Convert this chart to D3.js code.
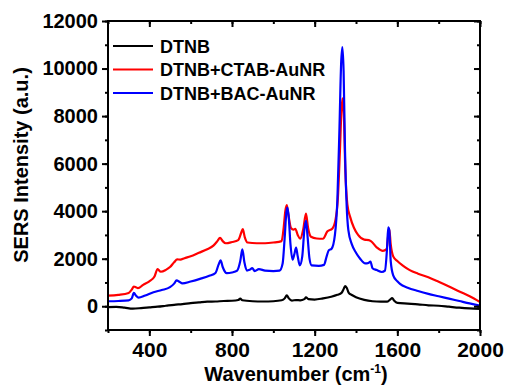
<!DOCTYPE html>
<html>
<head>
<meta charset="utf-8">
<script src="https://cdn.jsdelivr.net/npm/d3@7"></script>
<style>
  body { margin: 0; background: #fff; }
  svg { font-family: "Liberation Sans", Arial, sans-serif; font-weight: bold; }
</style>
</head>
<body>
<svg width="507" height="387"></svg>
<script>
// spectra: [wavenumber, intensity]
const dtnb = [
  [200,-40],[240,-30],[280,-60],[320,-100],[360,-80],[400,-50],[440,-20],[480,20],[520,60],
  [560,90],[600,130],[640,160],[680,190],[720,200],[760,220],[800,230],[830,260],[840,320],
  [850,250],[900,210],[950,200],[1000,210],[1040,250],[1055,330],[1065,460],[1075,330],
  [1090,240],[1110,260],[1130,250],[1150,300],[1158,370],[1170,300],[1200,280],[1240,330],
  [1280,400],[1310,480],[1330,560],[1340,720],[1347,850],[1355,780],[1365,560],[1380,470],
  [1400,380],[1440,270],[1480,210],[1520,190],[1550,190],[1565,280],[1575,340],[1585,230],
  [1600,140],[1650,110],[1700,80],[1750,40],[1800,20],[1850,-20],[1900,-60],[1950,-90],[2000,-110]
];

const dtnbCtab = [
  [200,450],[250,480],[300,560],[315,700],[325,830],[335,800],[345,760],[370,900],[400,1050],
  [425,1250],[440,1560],[455,1450],[480,1530],[500,1650],[520,1850],[535,1970],[550,1960],
  [570,2020],[600,2100],[640,2250],[680,2400],[710,2550],[730,2750],[742,2880],[755,2740],
  [770,2650],[800,2700],[830,2780],[845,3100],[852,3240],[862,2900],[875,2680],[920,2650],
  [960,2650],[1000,2680],[1040,2740],[1050,3300],[1058,4000],[1065,4250],[1072,3900],
  [1085,3300],[1098,3220],[1106,3260],[1118,3000],[1130,2840],[1145,3250],[1158,3900],
  [1168,3300],[1182,2920],[1210,2850],[1240,2840],[1262,3150],[1285,3260],[1300,3600],
  [1312,4500],[1322,6500],[1330,8300],[1335,8750],[1341,8100],[1348,5800],[1358,4300],
  [1372,3750],[1390,3300],[1410,3000],[1440,2800],[1462,2780],[1472,2740],[1500,2480],
  [1530,2330],[1548,2400],[1556,3000],[1561,3250],[1568,2600],[1580,2100],[1600,1900],
  [1625,1720],[1660,1520],[1700,1370],[1750,1220],[1800,1030],[1850,830],[1900,620],
  [1950,420],[2000,180]
];

const dtnbBac = [
  [200,210],[250,220],[300,250],[315,330],[325,560],[335,450],[348,360],[380,450],[420,590],
  [460,680],[500,800],[520,950],[532,1090],[545,1030],[560,960],[600,1040],[645,1150],
  [690,1280],[720,1400],[735,1750],[745,1930],[755,1650],[775,1390],[800,1420],[825,1500],
  [840,1900],[850,2390],[860,1850],[872,1500],[885,1530],[898,1600],[910,1480],[930,1560],
  [960,1500],[1000,1480],[1030,1500],[1045,1800],[1055,2900],[1063,3950],[1068,4150],
  [1074,3800],[1083,2600],[1093,1960],[1102,2200],[1110,2470],[1118,2100],[1128,1720],
  [1140,2100],[1150,3200],[1158,3600],[1165,3000],[1175,2000],[1185,1720],[1220,1700],
  [1245,1740],[1258,2100],[1268,2350],[1282,2420],[1298,3000],[1310,4500],[1320,7500],
  [1328,10200],[1334,10900],[1340,9900],[1347,6500],[1355,4200],[1363,3200],[1380,2600],
  [1400,2250],[1420,2000],[1445,1800],[1460,1820],[1470,1880],[1480,1600],[1500,1520],
  [1525,1440],[1540,1500],[1550,2400],[1556,3320],[1561,3200],[1568,1900],[1580,1300],
  [1600,1050],[1613,940],[1650,780],[1700,640],[1750,520],[1800,420],[1850,320],
  [1900,220],[1950,120],[2000,30]
];

const seriesNames = ['DTNB', 'DTNB+CTAB-AuNR', 'DTNB+BAC-AuNR'];
const seriesColors = ['#000000', '#ff0000', '#0000ff'];
const xTicks = [400, 800, 1200, 1600, 2000];
const yTicks = [0, 2000, 4000, 6000, 8000, 10000, 12000];

const svg = d3.select('svg');
const m = {left: 108, right: 480, top: 21, bottom: 330};

const x = d3.scaleLinear().domain([200, 2000]).range([m.left, m.right]);
const y = d3.scaleLinear().domain([-1000, 12000]).range([m.bottom, m.top]);

const line = d3.line()
  .x(d => x(d[0]))
  .y(d => y(d[1]))
  .curve(d3.curveMonotoneX);

// curves
[dtnb, dtnbCtab, dtnbBac].forEach((s, i) => {
  svg.append('path')
    .datum(s)
    .attr('fill', 'none')
    .attr('stroke', seriesColors[i])
    .attr('stroke-width', 2.2)
    .attr('stroke-linejoin', 'round')
    .attr('d', line);
});

// axes: labelled majors outside on left/bottom, mirrored inward on top/right
const minorX = d3.range(200, 2001, 200);
const minorY = d3.range(-1000, 12001, 1000);

function styleAxis(g) {
  g.select('.domain').remove();
  g.selectAll('line').attr('stroke', '#000').attr('stroke-width', 2);
}

svg.append('g').attr('transform', `translate(0,${m.bottom})`)
  .call(d3.axisBottom(x).tickValues(minorX).tickSize(3).tickFormat(''))
  .call(styleAxis);
svg.append('g').attr('transform', `translate(0,${m.bottom})`)
  .call(d3.axisBottom(x).tickValues(xTicks).tickSize(6).tickPadding(6).tickFormat(d3.format('d')))
  .call(styleAxis)
  .selectAll('text').attr('font-size', 21).attr('font-weight', 'bold').attr('fill', '#000');

svg.append('g').attr('transform', `translate(${m.left},0)`)
  .call(d3.axisLeft(y).tickValues(minorY).tickSize(3).tickFormat(''))
  .call(styleAxis);
svg.append('g').attr('transform', `translate(${m.left},0)`)
  .call(d3.axisLeft(y).tickValues(yTicks).tickSize(6).tickPadding(4).tickFormat(d3.format('d')))
  .call(styleAxis)
  .selectAll('text').attr('font-size', 20).attr('font-weight', 'bold').attr('fill', '#000');

svg.append('g').attr('transform', `translate(0,${m.top})`)
  .call(d3.axisTop(x).tickValues(minorX).tickSize(-3).tickFormat(''))
  .call(styleAxis);
svg.append('g').attr('transform', `translate(0,${m.top})`)
  .call(d3.axisTop(x).tickValues(d3.range(400, 2001, 400)).tickSize(-6).tickFormat(''))
  .call(styleAxis);

svg.append('g').attr('transform', `translate(${m.right},0)`)
  .call(d3.axisRight(y).tickValues(minorY).tickSize(-3).tickFormat(''))
  .call(styleAxis);
svg.append('g').attr('transform', `translate(${m.right},0)`)
  .call(d3.axisRight(y).tickValues(yTicks).tickSize(-6).tickFormat(''))
  .call(styleAxis);

// frame
svg.append('rect')
  .attr('x', m.left).attr('y', m.top)
  .attr('width', m.right - m.left).attr('height', m.bottom - m.top)
  .attr('fill', 'none').attr('stroke', '#000').attr('stroke-width', 2);

// axis titles
svg.append('text')
  .attr('transform', `translate(28,165) rotate(-90)`)
  .attr('text-anchor', 'middle')
  .attr('font-size', 20)
  .text('SERS Intensity (a.u.)');

const xt = svg.append('text')
  .attr('x', 296).attr('y', 381)
  .attr('text-anchor', 'middle')
  .attr('font-size', 20);
xt.append('tspan').text('Wavenumber (cm');
xt.append('tspan').attr('font-size', 12).attr('dy', -8).text('-1');
xt.append('tspan').attr('dy', 8).text(')');

// legend
const legend = svg.append('g');
seriesNames.forEach((name, i) => {
  const ly = 46 + i * 23.5;
  legend.append('line')
    .attr('x1', 113).attr('x2', 153).attr('y1', ly).attr('y2', ly)
    .attr('stroke', seriesColors[i]).attr('stroke-width', 2);
  legend.append('text')
    .attr('x', 160).attr('y', ly + 6.5)
    .attr('font-size', 18)
    .text(name);
});
</script>
</body>
</html>
